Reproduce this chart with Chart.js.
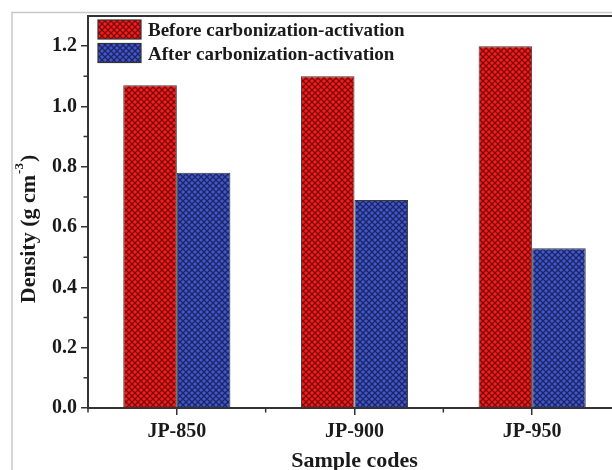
<!DOCTYPE html>
<html>
<head>
<meta charset="utf-8">
<script src="https://cdn.jsdelivr.net/npm/chart.js@4"></script>
<style>
  html, body { margin: 0; padding: 0; background: #fff; overflow: hidden; }
  #wrap { position: absolute; left: 0; top: 0; width: 640px; height: 470px; }
</style>
</head>
<body>
<div id="wrap"><canvas id="c" width="640" height="470"></canvas></div>
<script>
const categories = ['JP-850', 'JP-900', 'JP-950'];
const seriesNames = ['Before carbonization-activation', 'After carbonization-activation'];
const beforeValues = [1.07, 1.10, 1.20];
const afterValues = [0.78, 0.69, 0.53];
const yTickValues = [0, 0.2, 0.4, 0.6, 0.8, 1.0, 1.2];
const yMinorValues = [0.1, 0.3, 0.5, 0.7, 0.9, 1.1];
const yTitle = 'Density (g cm';
const yTitleSup = '-3';
const yTitleEnd = ')';
const xTitle = 'Sample codes';

const FONT = '"Liberation Serif", "Times New Roman", serif';
const AXIS = '#333333';

function hatch(base, line) {
  const s = 6;
  const c = document.createElement('canvas');
  c.width = s; c.height = s;
  const g = c.getContext('2d');
  g.fillStyle = base;
  g.fillRect(0, 0, s, s);
  g.strokeStyle = line;
  g.lineWidth = 1.3;
  g.beginPath();
  g.moveTo(-1, -1); g.lineTo(s + 1, s + 1);
  g.moveTo(s + 1, -1); g.lineTo(-1, s + 1);
  g.stroke();
  return g.createPattern(c, 'repeat');
}
const redFill = hatch('#f21e1e', 'rgba(90,0,0,0.75)');
const blueFill = hatch('#4258c8', 'rgba(15,20,70,0.75)');

const decor = {
  id: 'decor',
  beforeDraw(chart) {
    const ctx = chart.ctx;
    ctx.save();
    ctx.fillStyle = '#fff';
    ctx.fillRect(0, 0, chart.width, chart.height);
    // outer light frame
    ctx.strokeStyle = '#c8c8c8';
    ctx.lineWidth = 1.5;
    ctx.beginPath();
    ctx.moveTo(12, 470);
    ctx.lineTo(12, 12.5);
    ctx.lineTo(chart.width, 12.5);
    ctx.stroke();
    ctx.restore();
  },
  afterDraw(chart) {
    const ctx = chart.ctx;
    const a = chart.chartArea;
    const x = chart.scales.x, y = chart.scales.y;
    ctx.save();
    ctx.strokeStyle = AXIS;
    ctx.lineWidth = 2;
    // top frame line
    ctx.beginPath();
    ctx.moveTo(a.left - 1, a.top);
    ctx.lineTo(chart.width, a.top);
    ctx.stroke();
    // x minor ticks at category boundaries
    const half = (x.getPixelForValue(1) - x.getPixelForValue(0)) / 2;
    ctx.lineWidth = 1.5;
    ctx.beginPath();
    for (let i = 0; i <= categories.length; i++) {
      const px = x.getPixelForValue(0) - half + i * 2 * half;
      ctx.moveTo(px, a.bottom);
      ctx.lineTo(px, a.bottom + 4.5);
    }
    // y minor ticks
    yMinorValues.forEach(v => {
      const py = y.getPixelForValue(v);
      ctx.moveTo(a.left, py);
      ctx.lineTo(a.left - 4.5, py);
    });
    ctx.stroke();

    // legend
    const items = chart.data.datasets;
    items.forEach((ds, i) => {
      const bx = 98, by = 20 + i * 23.5, bw = 43, bh = 19;
      ctx.fillStyle = ds.backgroundColor;
      ctx.fillRect(bx, by, bw, bh);
      ctx.strokeStyle = '#333';
      ctx.lineWidth = 1.2;
      ctx.strokeRect(bx, by, bw, bh);
      ctx.fillStyle = '#1a1a1a';
      ctx.font = 'bold 19px ' + FONT;
      ctx.textAlign = 'left';
      ctx.textBaseline = 'alphabetic';
      ctx.fillText(ds.label, 148, by + bh / 2 + 6.5);
    });

    // x title
    ctx.fillStyle = '#1a1a1a';
    ctx.font = 'bold 22px ' + FONT;
    ctx.textAlign = 'center';
    ctx.textBaseline = 'alphabetic';
    ctx.fillText(xTitle, (a.left + a.right) / 2, 467);

    // y title with superscript
    ctx.save();
    ctx.translate(35, 229);
    ctx.rotate(-Math.PI / 2);
    ctx.textAlign = 'left';
    const mainFont = 'bold 22px ' + FONT;
    const supFont = 'bold 13px ' + FONT;
    ctx.font = mainFont;
    const w1 = ctx.measureText(yTitle).width;
    const w3 = ctx.measureText(yTitleEnd).width;
    ctx.font = supFont;
    const w2 = ctx.measureText(yTitleSup).width;
    let sx = -(w1 + w2 + w3 + 2) / 2;
    ctx.font = mainFont;
    ctx.fillText(yTitle, sx, 0);
    sx += w1 + 1;
    ctx.font = supFont;
    ctx.fillText(yTitleSup, sx, -12);
    sx += w2 + 1;
    ctx.font = mainFont;
    ctx.fillText(yTitleEnd, sx, 0);
    ctx.restore();

    ctx.restore();
  }
};

new Chart(document.getElementById('c'), {
  type: 'bar',
  data: {
    labels: categories,
    datasets: [
      { label: seriesNames[0], data: beforeValues, backgroundColor: redFill, borderColor: '#3a3a3a', borderWidth: 1 },
      { label: seriesNames[1], data: afterValues, backgroundColor: blueFill, borderColor: '#3a3a3a', borderWidth: 1 }
    ]
  },
  options: {
    responsive: false,
    animation: false,
    devicePixelRatio: 1,
    layout: { padding: { top: 14, right: 19, left: 0, bottom: 0 } },
    datasets: { bar: { categoryPercentage: 0.603, barPercentage: 1.0 } },
    plugins: { legend: { display: false }, tooltip: { enabled: false } },
    scales: {
      x: {
        offset: true,
        grid: { display: true, drawOnChartArea: false, drawTicks: true, tickLength: 7, offset: false, color: AXIS, lineWidth: 1.5 },
        border: { display: true, color: AXIS, width: 2 },
        ticks: { color: '#1a1a1a', font: { family: FONT, size: 20, weight: 'bold' }, padding: 5, maxRotation: 0 },
        afterFit(s) { s.height = 62; }
      },
      y: {
        min: 0,
        max: 1.3,
        afterBuildTicks(s) { s.ticks = yTickValues.map(v => ({ value: v })); },
        grid: { display: true, drawOnChartArea: false, drawTicks: true, tickLength: 7, color: AXIS, lineWidth: 1.5 },
        border: { display: true, color: AXIS, width: 2 },
        ticks: {
          color: '#1a1a1a',
          font: { family: FONT, size: 20, weight: 'bold' },
          padding: 4,
          callback: v => Number(v).toFixed(1)
        },
        afterFit(s) { s.width = 88; }
      }
    }
  },
  plugins: [decor]
});
</script>
</body>
</html>
